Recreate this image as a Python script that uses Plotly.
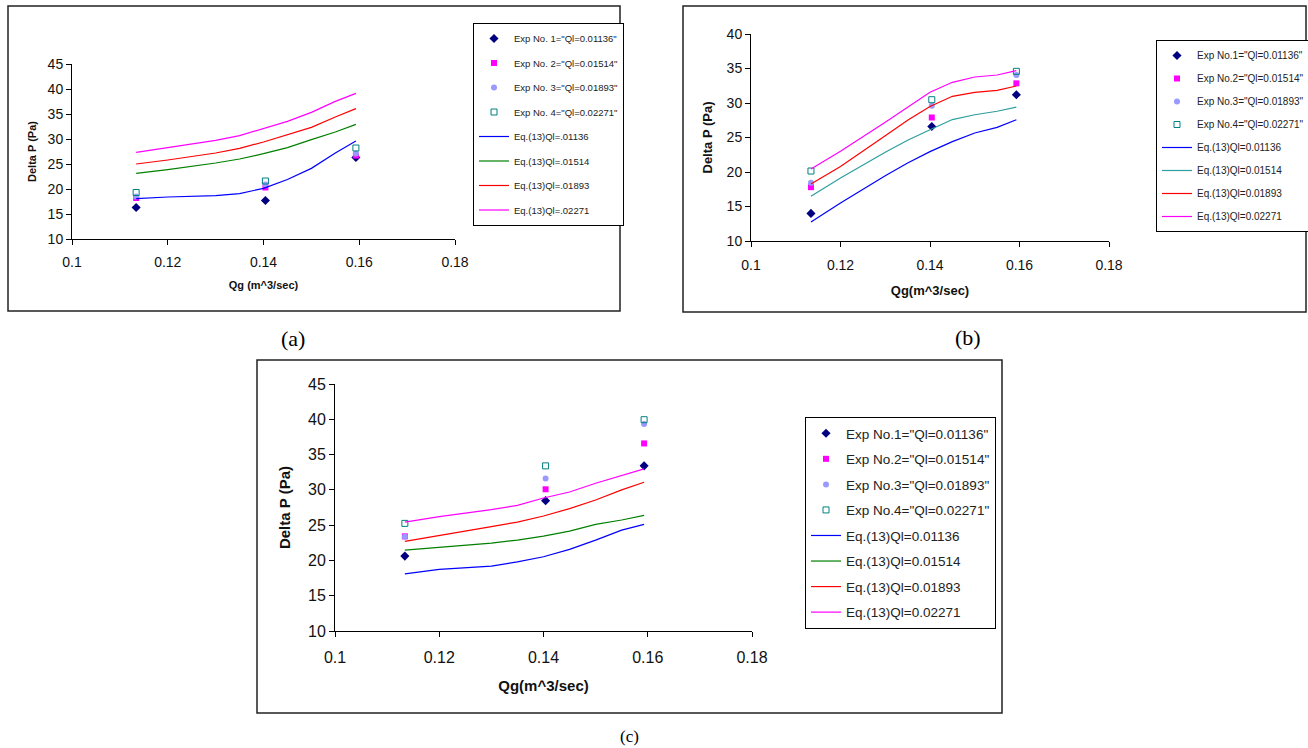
import plotly.graph_objects as go

W, H = 1308, 748

# ---------------- data ----------------
qg_exp = [0.1134, 0.1404, 0.1593]
qg_line = [0.1134, 0.12, 0.13, 0.135, 0.14, 0.145, 0.15, 0.155, 0.1593]

# panel (a)
a_exp1 = [16.3, 17.7, 26.3]
a_exp2 = [18.2, 20.3, 26.7]
a_exp3 = [18.5, 20.9, 27.1]
a_exp4 = [19.3, 21.6, 28.2]
a_eq1 = [18.07, 18.4, 18.67, 19.07, 20.13, 21.9, 24.13, 27.2, 29.6]
a_eq2 = [23.13, 23.87, 25.2, 26.0, 27.07, 28.27, 29.87, 31.4, 32.93]
a_eq3 = [25.0, 25.8, 27.2, 28.13, 29.4, 30.87, 32.33, 34.4, 36.07]
a_eq4 = [27.33, 28.27, 29.73, 30.67, 32.13, 33.53, 35.33, 37.53, 39.13]

# panel (b)
b_exp1 = [14.0, 26.6, 31.2]
b_exp2 = [17.8, 27.9, 32.85]
b_exp3 = [18.45, 29.6, 34.06]
b_exp4 = [20.14, 30.48, 34.59]
b_eq1 = [12.75, 15.5, 19.47, 21.3, 22.95, 24.4, 25.65, 26.47, 27.58]
b_eq2 = [16.47, 19.13, 22.85, 24.6, 26.13, 27.6, 28.3, 28.8, 29.4]
b_eq3 = [18.26, 20.8, 25.27, 27.5, 29.5, 30.97, 31.55, 31.84, 32.46]
b_eq4 = [20.43, 23.0, 27.2, 29.4, 31.55, 33.0, 33.77, 34.06, 34.69]

# panel (c)
c_exp1 = [20.61, 28.47, 33.4]
c_exp2 = [23.41, 30.08, 36.58]
c_exp3 = [23.36, 31.6, 39.32]
c_exp4 = [25.25, 33.4, 39.94]
c_eq1 = [18.1, 18.72, 19.19, 19.8, 20.52, 21.56, 22.88, 24.3, 25.1]
c_eq2 = [21.46, 21.84, 22.46, 22.88, 23.45, 24.16, 25.1, 25.73, 26.39]
c_eq3 = [22.7, 23.5, 24.78, 25.44, 26.3, 27.34, 28.57, 29.99, 31.08]
c_eq4 = [25.44, 26.2, 27.2, 27.81, 28.85, 29.7, 30.94, 31.98, 32.98]

names_a = ['Exp No. 1="Ql=0.01136"', 'Exp No. 2="Ql=0.01514"', 'Exp No. 3="Ql=0.01893"', 'Exp No. 4="Ql=0.02271"',
           'Eq.(13)Ql=.01136', 'Eq.(13)Ql=.01514', 'Eq.(13)Ql=.01893', 'Eq.(13)Ql=.02271']
names_bc = ['Exp No.1="Ql=0.01136"', 'Exp No.2="Ql=0.01514"', 'Exp No.3="Ql=0.01893"', 'Exp No.4="Ql=0.02271"',
            'Eq.(13)Ql=0.01136', 'Eq.(13)Ql=0.01514', 'Eq.(13)Ql=0.01893', 'Eq.(13)Ql=0.02271']

xticks = [0.1, 0.12, 0.14, 0.16, 0.18]
xtick_labels = ["0.1", "0.12", "0.14", "0.16", "0.18"]

# ---------------- styles ----------------
FONT = "Liberation Sans, Arial, sans-serif"
exp_styles = [
    dict(symbol="diamond", color="#000080", size=7),
    dict(symbol="square", color="#FF00FF", size=6),
    dict(symbol="circle", color="#9999FF", size=6),
    dict(symbol="square-open", color="#008080", size=6, line=dict(width=1, color="#008080")),
]

def px_x(p):
    return p / W

def px_y(p):
    return 1 - p / H

fig = go.Figure()

panels = [
    dict(ax="", leg="legend", exps=[a_exp1, a_exp2, a_exp3, a_exp4], eqs=[a_eq1, a_eq2, a_eq3, a_eq4],
         names=names_a, colors=["#0000FF", "#008000", "#FF0000", "#FF00FF"]),
    dict(ax="2", leg="legend2", exps=[b_exp1, b_exp2, b_exp3, b_exp4], eqs=[b_eq1, b_eq2, b_eq3, b_eq4],
         names=names_bc, colors=["#0000FF", "#2E9E9E", "#FF0000", "#FF00FF"]),
    dict(ax="3", leg="legend3", exps=[c_exp1, c_exp2, c_exp3, c_exp4], eqs=[c_eq1, c_eq2, c_eq3, c_eq4],
         names=names_bc, colors=["#0000FF", "#008000", "#FF0000", "#FF00FF"]),
]

for pi, p in enumerate(panels):
    xa = "x" + p["ax"]
    ya = "y" + p["ax"]
    for i, ys in enumerate(p["exps"]):
        fig.add_trace(go.Scatter(x=qg_exp, y=ys, mode="markers", name=p["names"][i],
                                 marker=exp_styles[i], xaxis=xa, yaxis=ya, legend=p["leg"],
                                 legendgroup=f"p{pi}g{i}"))
    for i, ys in enumerate(p["eqs"]):
        fig.add_trace(go.Scatter(x=qg_line, y=ys, mode="lines", name=p["names"][4 + i],
                                 line=dict(color=p["colors"][i], width=1.2), xaxis=xa, yaxis=ya,
                                 legend=p["leg"], legendgroup=f"p{pi}g{4 + i}"))

def xaxis_cfg(dom, anchor, tfs, title, tsz, standoff, lstand):
    return dict(domain=dom, anchor=anchor, range=[0.1, 0.18], tickvals=xticks, ticktext=xtick_labels,
                showline=True, linecolor="black", linewidth=1, ticks="outside", ticklen=5,
                tickcolor="black", showgrid=False, zeroline=False, automargin=False,
                ticklabelstandoff=lstand,
                tickfont=dict(family=FONT, size=tfs, color="#111"),
                title=dict(text=title, font=dict(family=FONT, size=tsz, color="#111", weight="bold"),
                           standoff=standoff))

def yaxis_cfg(dom, anchor, rng, tfs, tsz, standoff):
    return dict(domain=dom, anchor=anchor, range=rng, dtick=5,
                showline=True, linecolor="black", linewidth=1, ticks="outside", ticklen=5,
                tickcolor="black", showgrid=False, zeroline=False, automargin=False,
                tickfont=dict(family=FONT, size=tfs, color="#111"),
                title=dict(text="Delta P (Pa)", font=dict(family=FONT, size=tsz, color="#111", weight="bold"),
                           standoff=standoff))

def legend_cfg(x, y, fs, gap):
    return dict(x=x, y=y, xanchor="left", yanchor="top", bgcolor="white", bordercolor="black",
                borderwidth=1, font=dict(family=FONT, size=fs, color="#222"), traceorder="grouped",
                tracegroupgap=gap, itemwidth=30)

fig.update_layout(
    template="none",
    width=W, height=H, margin=dict(l=0, r=0, t=0, b=0, pad=0, autoexpand=False),
    paper_bgcolor="white", plot_bgcolor="white",
    xaxis=xaxis_cfg([px_x(72), px_x(455)], "y", 14, "Qg (m^3/sec)", 11, 12, 5),
    yaxis=yaxis_cfg([px_y(239), px_y(64)], "x", [10, 45], 14, 11, 8),
    xaxis2=xaxis_cfg([px_x(751), px_x(1109)], "y2", 14, "Qg(m^3/sec)", 13, 14, 6),
    yaxis2=yaxis_cfg([px_y(241), px_y(34)], "x2", [10, 40], 14, 13, 11),
    xaxis3=xaxis_cfg([px_x(335), px_x(752)], "y3", 16, "Qg(m^3/sec)", 15, 15, 7),
    yaxis3=yaxis_cfg([px_y(631), px_y(384)], "x3", [10, 45], 16, 15, 13),
    legend=legend_cfg(px_x(473), px_y(23), 9.5, 5.5),
    legend2=legend_cfg(px_x(1156), px_y(40), 10, 4),
    legend3=legend_cfg(px_x(805), px_y(417), 13.5, 5),
    showlegend=True,
)

frames = [(8, 6, 620, 311), (683, 6, 1306, 312), (257, 360, 1002, 713)]
for (x0, y0, x1, y1) in frames:
    fig.add_shape(type="rect", xref="paper", yref="paper", x0=px_x(x0), x1=px_x(x1),
                  y0=px_y(y1), y1=px_y(y0), line=dict(color="#222", width=1.5), layer="below")

labels = [("(a)", 293, 338, 22), ("(b)", 968, 337, 22), ("(c)", 629, 736, 17)]
for t, x, y, s in labels:
    fig.add_annotation(text=t, x=px_x(x), y=px_y(y), xref="paper", yref="paper", showarrow=False,
                       xanchor="center", yanchor="middle",
                       font=dict(family="Liberation Serif, Times New Roman, serif", size=s, color="black"))

fig.write_html("out.html", config={"displayModeBar": False},
               post_script="document.body.style.margin='0';document.body.style.overflow='hidden';")
